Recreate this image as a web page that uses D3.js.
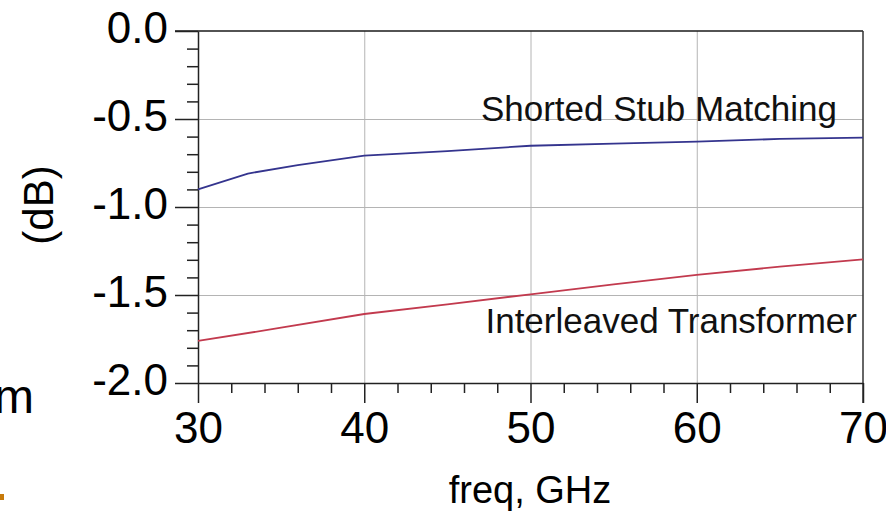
<!DOCTYPE html>
<html>
<head>
<meta charset="utf-8">
<script src="https://cdn.jsdelivr.net/npm/d3@7"></script>
<style>
  html, body { margin: 0; padding: 0; background: #fff; }
  svg { display: block; font-family: "Liberation Sans", Arial, sans-serif; }
</style>
</head>
<body>
<div id="chart"></div>
<script>
// values (dB vs GHz)
var stubFreq = [30, 33, 36, 40, 45, 50, 55, 60, 65, 70];
var stubLoss = [-0.90, -0.81, -0.762, -0.708, -0.682, -0.652, -0.640, -0.629, -0.613, -0.606];
var xfmrFreq = [30, 35, 40, 45, 50, 55, 60, 65, 70];
var xfmrLoss = [-1.761, -1.686, -1.608, -1.553, -1.496, -1.440, -1.386, -1.339, -1.297];

var xTicks = [30, 40, 50, 60, 70];
var yTicks = [0, -0.5, -1.0, -1.5, -2.0];
var yTickLabels = ["0.0", "-0.5", "-1.0", "-1.5", "-2.0"];
var xMinor = [32, 34, 36, 38, 42, 44, 46, 48, 52, 54, 56, 58, 62, 64, 66, 68];
var yMinor = [-0.1, -0.2, -0.3, -0.4, -0.6, -0.7, -0.8, -0.9, -1.1, -1.2, -1.3, -1.4, -1.6, -1.7, -1.8, -1.9];

var width = 886, height = 523;
var margin = { top: 31, right: 23, bottom: 140, left: 198 };
var w = width - margin.left - margin.right;
var h = height - margin.top - margin.bottom;

var svg = d3.select("#chart").append("svg")
    .attr("width", width)
    .attr("height", height);

var g = svg.append("g")
    .attr("transform", "translate(" + margin.left + "," + margin.top + ")");

var x = d3.scaleLinear().domain([30, 70]).range([0, w]);
var y = d3.scaleLinear().domain([-2, 0]).range([h, 0]);

// grid
g.append("g")
    .attr("class", "grid")
    .attr("transform", "translate(0," + h + ")")
    .call(d3.axisBottom(x).tickValues(xTicks.slice(1, -1)).tickSize(-h).tickFormat(""))
    .call(function (s) { s.select(".domain").remove(); });
g.append("g")
    .attr("class", "grid")
    .call(d3.axisLeft(y).tickValues(yTicks.slice(1, -1)).tickSize(-w).tickFormat(""))
    .call(function (s) { s.select(".domain").remove(); });
g.selectAll(".grid line").attr("stroke", "#b4b4b4").attr("stroke-width", 1);

// frame top / right
g.append("line").attr("x1", -23).attr("x2", w).attr("y1", 0).attr("y2", 0)
    .attr("stroke", "#1a1a1a").attr("stroke-width", 1.5);
g.append("line").attr("x1", w).attr("x2", w).attr("y1", 0).attr("y2", h + 20)
    .attr("stroke", "#333").attr("stroke-width", 1.5);

// minor ticks
g.append("g")
    .attr("transform", "translate(0," + h + ")")
    .call(d3.axisBottom(x).tickValues(xMinor).tickSize(10).tickFormat(""))
    .call(function (s) { s.select(".domain").remove(); })
    .selectAll("line").attr("stroke", "#222").attr("stroke-width", 1.5);
g.append("g")
    .call(d3.axisLeft(y).tickValues(yMinor).tickSize(11).tickFormat(""))
    .call(function (s) { s.select(".domain").remove(); })
    .selectAll("line").attr("stroke", "#222").attr("stroke-width", 1.5);

// major axes
var xAxis = g.append("g")
    .attr("transform", "translate(0," + h + ")")
    .call(d3.axisBottom(x).tickValues(xTicks).tickSize(20).tickSizeOuter(0).tickPadding(9));
var yAxis = g.append("g")
    .call(d3.axisLeft(y).tickValues(yTicks).tickSize(23).tickSizeOuter(0).tickPadding(7)
        .tickFormat(function (d, i) { return yTickLabels[i]; }));

[xAxis, yAxis].forEach(function (a) {
    a.select(".domain").attr("stroke", "#222").attr("stroke-width", 1.5);
    a.selectAll("line").attr("stroke", "#222").attr("stroke-width", 1.5);
    a.selectAll("text")
        .attr("fill", "#000")
        .style("font-family", "'Liberation Sans', Arial, sans-serif")
        .style("font-size", "44px");
});
yAxis.selectAll("text").attr("dy", "0.27em");

// curves
var line = d3.line()
    .x(function (d) { return x(d[0]); })
    .y(function (d) { return y(d[1]); });

g.append("path")
    .datum(d3.zip(stubFreq, stubLoss))
    .attr("fill", "none")
    .attr("stroke", "#34348e")
    .attr("stroke-width", 1.8)
    .attr("d", line);

g.append("path")
    .datum(d3.zip(xfmrFreq, xfmrLoss))
    .attr("fill", "none")
    .attr("stroke", "#c23a4e")
    .attr("stroke-width", 1.8)
    .attr("d", line);

// curve labels
svg.append("text")
    .attr("x", 837).attr("y", 121)
    .attr("text-anchor", "end")
    .style("font-size", "35px")
    .attr("fill", "#111")
    .text("Shorted Stub Matching");
svg.append("text")
    .attr("x", 857).attr("y", 333)
    .attr("text-anchor", "end")
    .style("font-size", "35px")
    .attr("fill", "#111")
    .text("Interleaved Transformer");

// axis titles
svg.append("text")
    .attr("transform", "translate(53,205) rotate(-90)")
    .attr("text-anchor", "middle")
    .style("font-size", "42px")
    .text("(dB)");
svg.append("text")
    .attr("x", 530).attr("y", 503)
    .attr("text-anchor", "middle")
    .style("font-size", "38px")
    .text("freq, GHz");

// leftovers of the slide at the left edge
svg.append("text")
    .attr("x", 34).attr("y", 413)
    .attr("text-anchor", "end")
    .style("font-size", "48px")
    .text("m");
svg.append("rect")
    .attr("x", 0).attr("y", 494).attr("width", 4).attr("height", 6)
    .attr("fill", "#c77a0a");
</script>
</body>
</html>
